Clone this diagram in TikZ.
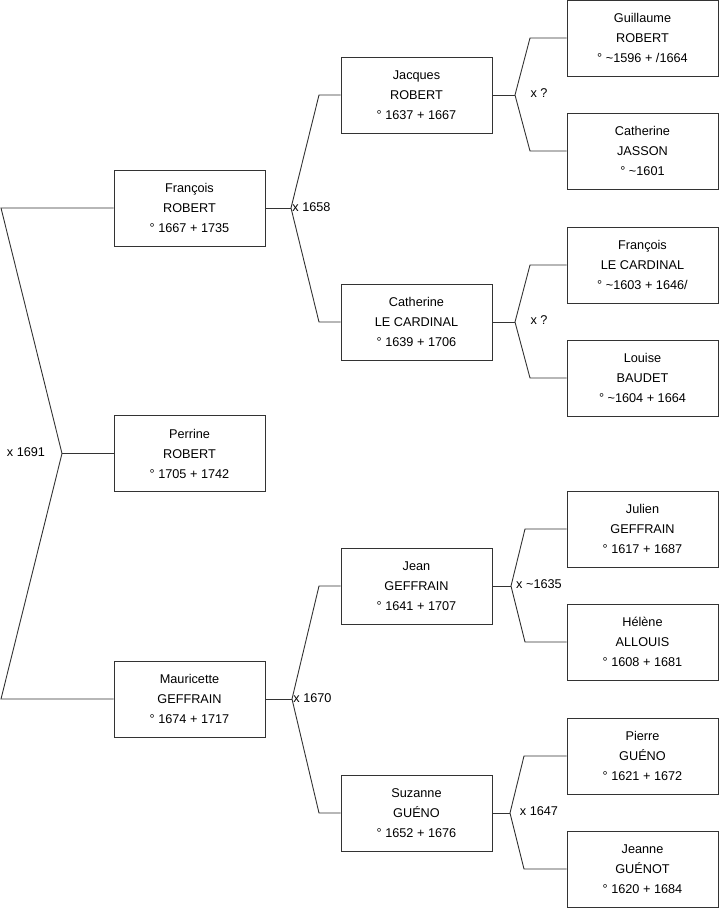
\documentclass[tikz,border=0pt]{standalone}
\usepackage{fontspec}
\setmainfont{Liberation Sans}
\usetikzlibrary{positioning}
\tikzset{person/.style = {draw=black!80, line width=0.9pt, fill=white,
    minimum width=151pt, minimum height=76pt, inner sep=0pt, align=center,
    font=\fontsize{12.7}{20}\selectfont}}
\tikzset{union/.style = {inner sep=0pt, font=\fontsize{12.7}{15}\selectfont}}
\tikzset{tie/.style = {draw=black!80}}
\tikzset{every picture/.style={
    every path/.style={line width=0.9pt},
}}
\begin{document}
\begin{tikzpicture}[x=1pt, y=-1pt]
      \useasboundingbox (0,0) rectangle (719,908);
      % generation 1
      \node[person] (perrine) at (189.5,453.5) {Perrine\\ROBERT\\° 1705 + 1742};
      % generation 2
      \node[person] (francois) at (189.5,208) {François\\ROBERT\\° 1667 + 1735};
      \node[person] (mauricette) at (189.5,699) {Mauricette\\GEFFRAIN\\° 1674 + 1717};
      % generation 3
      \node[person] (jacques) at (416.5,95) {Jacques\\ROBERT\\° 1637 + 1667};
      \node[person] (catherine) at (416.5,322) {Catherine\\LE CARDINAL\\° 1639 + 1706};
      \node[person] (jean) at (416.5,586) {Jean\\GEFFRAIN\\° 1641 + 1707};
      \node[person] (suzanne) at (416.5,813) {Suzanne\\GUÉNO\\° 1652 + 1676};
      % generation 4
      \node[person] (guillaume) at (642.5,38) {Guillaume\\ROBERT\\° \~{}1596 + /1664};
      \node[person] (jasson) at (642.5,151) {Catherine\\JASSON\\° \~{}1601};
      \node[person] (lecardinal) at (642.5,265) {François\\LE CARDINAL\\° \~{}1603 + 1646/};
      \node[person] (louise) at (642.5,378) {Louise\\BAUDET\\° \~{}1604 + 1664};
      \node[person] (julien) at (642.5,529) {Julien\\GEFFRAIN\\° 1617 + 1687};
      \node[person] (helene) at (642.5,642) {Hélène\\ALLOUIS\\° 1608 + 1681};
      \node[person] (pierre) at (642.5,756) {Pierre\\GUÉNO\\° 1621 + 1672};
      \node[person] (jeanne) at (642.5,869) {Jeanne\\GUÉNOT\\° 1620 + 1684};
      % junctions and bends
      \coordinate (j0) at (62,453.5);
      \coordinate (b01) at (1,208);
      \coordinate (b02) at (1,699);
      \coordinate (j1) at (291,208);
      \coordinate (b11) at (319,95);
      \coordinate (b12) at (319,322);
      \coordinate (j2) at (292,699);
      \coordinate (b21) at (319,586);
      \coordinate (b22) at (319,813);
      \coordinate (j3) at (515,95);
      \coordinate (b31) at (530,38);
      \coordinate (b32) at (530,151);
      \coordinate (j4) at (515,322);
      \coordinate (b41) at (530,265);
      \coordinate (b42) at (530,378);
      \coordinate (j5) at (511,586);
      \coordinate (b51) at (525,529);
      \coordinate (b52) at (525,642);
      \coordinate (j6) at (510,813);
      \coordinate (b61) at (524,756);
      \coordinate (b62) at (524,869);
      % connectors
      \draw[tie] (perrine.west) -- (j0);
      \draw[tie] (francois.west) -- (b01) -- (j0) -- (b02) -- (mauricette.west);
      \draw[tie] (francois.east) -- (j1);
      \draw[tie] (jacques.west) -- (b11) -- (j1) -- (b12) -- (catherine.west);
      \draw[tie] (mauricette.east) -- (j2);
      \draw[tie] (jean.west) -- (b21) -- (j2) -- (b22) -- (suzanne.west);
      \draw[tie] (jacques.east) -- (j3);
      \draw[tie] (guillaume.west) -- (b31) -- (j3) -- (b32) -- (jasson.west);
      \draw[tie] (catherine.east) -- (j4);
      \draw[tie] (lecardinal.west) -- (b41) -- (j4) -- (b42) -- (louise.west);
      \draw[tie] (jean.east) -- (j5);
      \draw[tie] (julien.west) -- (b51) -- (j5) -- (b52) -- (helene.west);
      \draw[tie] (suzanne.east) -- (j6);
      \draw[tie] (pierre.west) -- (b61) -- (j6) -- (b62) -- (jeanne.west);
      % marriages
      \node[union] (x0) at (26,452) {x 1691};
      \node[union] (x1) at (311.5,207) {x 1658};
      \node[union] (x2) at (312.5,698) {x 1670};
      \node[union] (x3) at (539,93) {x ?};
      \node[union] (x4) at (539,320) {x ?};
      \node[union] (x5) at (539,584) {x \~{}1635};
      \node[union] (x6) at (539,811) {x 1647};
    \end{tikzpicture}
\end{document}
